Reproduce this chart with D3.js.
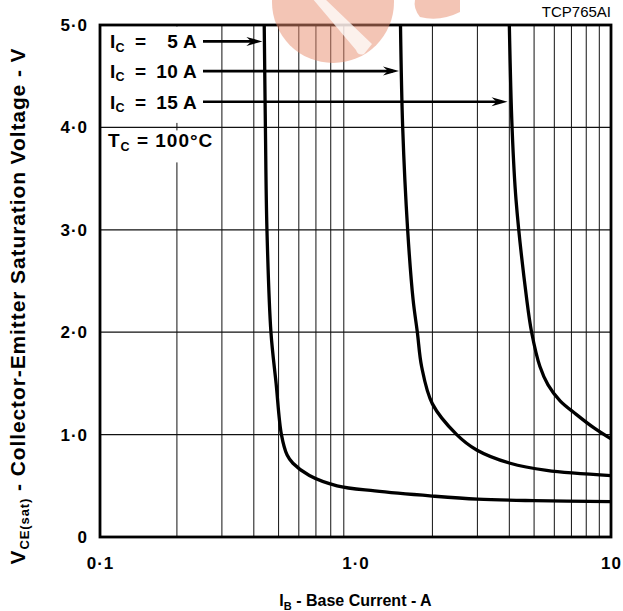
<!DOCTYPE html>
<html>
<head>
<meta charset="utf-8">
<script src="https://cdn.jsdelivr.net/npm/d3@7/dist/d3.min.js"></script>
<style>
  html, body { margin: 0; padding: 0; background: #fff; }
  svg { display: block; font-family: "Liberation Sans", Arial, Helvetica, sans-serif; }
</style>
</head>
<body>
<svg id="chart" width="623" height="611"></svg>
<script>
// Base current (A) and saturation voltage (V) for each collector current
const ic5_IB  = [0.4393, 0.444, 0.4502, 0.4667, 0.4889, 0.513, 0.54, 0.569, 0.66, 0.847, 1.19, 2.0, 3.0, 5.0, 10];
const ic5_V   = [5.0, 4.0, 3.0, 2.0, 1.5, 1.0, 0.8, 0.72, 0.6, 0.5, 0.45, 0.40, 0.37, 0.355, 0.345];
const ic10_IB = [1.50, 1.53, 1.60, 1.68, 1.746, 1.816, 2.0, 2.49, 2.98, 4.03, 5.6, 10];
const ic10_V  = [5.0, 4.0, 3.0, 2.32, 2.0, 1.66, 1.30, 1.0, 0.85, 0.72, 0.65, 0.60];
const ic15_IB = [4.0, 4.10, 4.25, 4.68, 4.89, 5.27, 5.67, 6.32, 7.29, 8.58, 10];
const ic15_V  = [5.0, 4.0, 3.29, 2.32, 2.0, 1.665, 1.486, 1.33, 1.20, 1.065, 0.958];

// Curve labels and where their arrows land
const labelValues = ["5 A", "10 A", "15 A"];
const arrowIB = [0.438, 1.50, 3.99];
const arrowV  = [4.84, 4.55, 4.25];

// Axis ticks, labels and grid
const xTicks = [0.1, 1, 10];
const xTickLabels = ["0·1", "1·0", "10"];
const yTicks = [0, 1, 2, 3, 4, 5];
const yTickLabels = ["0", "1·0", "2·0", "3·0", "4·0", "5·0"];
const xGrid = [0.2, 0.3, 0.4, 0.5, 0.6, 0.7, 0.8, 0.9, 2, 3, 4, 5, 6, 7, 8, 9];
const yGrid = [1, 2, 3, 4];

const svg = d3.select("#chart");
const L = 100, R = 611, T = 25, B = 537;

const x = d3.scaleLog().domain([0.1, 10]).range([L, R]);
const y = d3.scaleLinear().domain([0, 5]).range([B, T]);

// grid
const grid = svg.append("g");
grid.selectAll("line.gx").data(xGrid).join("line")
  .attr("x1", d => x(d)).attr("x2", d => x(d))
  .attr("y1", T).attr("y2", B)
  .attr("stroke", "#111").attr("stroke-width", 1);
grid.selectAll("line.gy").data(yGrid).join("line")
  .attr("x1", L).attr("x2", R)
  .attr("y1", d => y(d)).attr("y2", d => y(d))
  .attr("stroke", "#111").attr("stroke-width", 1.2);

// white panels behind the legend text
svg.append("rect").attr("x", L + 1.5).attr("y", T + 1.5).attr("width", 100).attr("height", y(4) - T - 6).attr("fill", "#fff");
svg.append("rect").attr("x", L + 1.5).attr("y", y(4) + 3).attr("width", 118).attr("height", 32).attr("fill", "#fff");

// axes (labels only, no tick marks)
const fmtX = d => xTickLabels[xTicks.indexOf(d)];
const fmtY = d => yTickLabels[yTicks.indexOf(d)];
const xAxis = svg.append("g").attr("transform", `translate(0,${B})`)
  .call(d3.axisBottom(x).tickValues(xTicks).tickFormat(fmtX).tickSize(0).tickPadding(20));
const yAxis = svg.append("g").attr("transform", `translate(${L},0)`)
  .call(d3.axisLeft(y).tickValues(yTicks).tickFormat(fmtY).tickSize(0).tickPadding(12));
[xAxis, yAxis].forEach(a => {
  a.select(".domain").remove();
  a.selectAll("text").attr("fill", "#000").attr("font-size", 17).attr("font-weight", "bold")
    .attr("letter-spacing", 1)
    .attr("font-family", "'Liberation Sans', Arial, sans-serif");
});

// frame
svg.append("rect").attr("x", L).attr("y", T).attr("width", R - L).attr("height", B - T)
  .attr("fill", "none").attr("stroke", "#000").attr("stroke-width", 2.8);

// curves
const line = d3.line().x(d => x(d[0])).y(d => y(d[1])).curve(d3.curveCatmullRom.alpha(0.5));
const series = [d3.zip(ic5_IB, ic5_V), d3.zip(ic10_IB, ic10_V), d3.zip(ic15_IB, ic15_V)];
svg.append("g").selectAll("path").data(series).join("path")
  .attr("d", line).attr("fill", "none").attr("stroke", "#000")
  .attr("stroke-width", 3.3).attr("stroke-linejoin", "round");

// legend labels with arrows
const lg = svg.append("g").attr("font-weight", "bold").attr("fill", "#000").attr("letter-spacing", 0.3);
labelValues.forEach((v, i) => {
  const by = y(arrowV[i]) + 6.8;
  const t = lg.append("text").attr("x", L + 10).attr("y", by).attr("font-size", 19);
  t.append("tspan").text("I");
  t.append("tspan").attr("font-size", 12.5).attr("dy", 3.5).text("C");
  lg.append("text").attr("x", L + 35).attr("y", by).attr("font-size", 19).text("=");
  lg.append("text").attr("x", L + 97).attr("y", by).attr("font-size", 19)
    .attr("text-anchor", "end").text(v);
  const ay = y(arrowV[i]);
  const x0 = L + 103, x1 = x(arrowIB[i]) - 1.5;
  lg.append("line").attr("x1", x0).attr("x2", x1 - 6).attr("y1", ay).attr("y2", ay)
    .attr("stroke", "#000").attr("stroke-width", 2.6);
  lg.append("path")
    .attr("d", `M${x1},${ay} L${x1 - 16},${ay - 4.5} L${x1 - 11},${ay} L${x1 - 16},${ay + 4.5} Z`)
    .attr("fill", "#000");
});
const tc = lg.append("text").attr("x", L + 8).attr("y", y(4) + 20).attr("font-size", 19).attr("letter-spacing", 1);
tc.append("tspan").text("T");
tc.append("tspan").attr("font-size", 12.5).attr("dy", 3.5).text("C");
tc.append("tspan").attr("dy", -3.5).text(" = 100°C");

// part number
svg.append("text").attr("x", R).attr("y", 16.5).attr("text-anchor", "end")
  .attr("font-size", 15).attr("fill", "#000").text("TCP765AI");

// axis titles
const xt = svg.append("text").attr("x", (L + R) / 2).attr("y", 606)
  .attr("text-anchor", "middle").attr("font-size", 16).attr("font-weight", "bold");
xt.append("tspan").text("I");
xt.append("tspan").attr("font-size", 11).attr("dy", 4).text("B");
xt.append("tspan").attr("dy", -4).text(" - Base Current - A");

const yt = svg.append("text").attr("transform", "translate(25,306) rotate(-90)")
  .attr("text-anchor", "middle").attr("font-size", 21).attr("font-weight", "bold")
  .attr("letter-spacing", 0.9);
yt.append("tspan").text("V");
yt.append("tspan").attr("font-size", 13).attr("dy", 4).text("CE(sat)");
yt.append("tspan").attr("dy", -4).text(" - Collector-Emitter Saturation Voltage - V");

// translucent badge at the top edge
const badge = svg.append("g").attr("opacity", 0.5);
badge.append("circle").attr("cx", 333).attr("cy", 2).attr("r", 61).attr("fill", "rgb(232,140,110)");
badge.append("path").attr("d", "M460,0 L460,12 Q440,22 420,17 Q413,8 415,0 Z").attr("fill", "rgb(232,140,110)");
svg.append("path").attr("d", "M312,-2 L324,-2 L372,44 L364,54 Q358,56 356,50 Z").attr("fill", "#fff").attr("opacity", 0.75);
</script>
</body>
</html>
